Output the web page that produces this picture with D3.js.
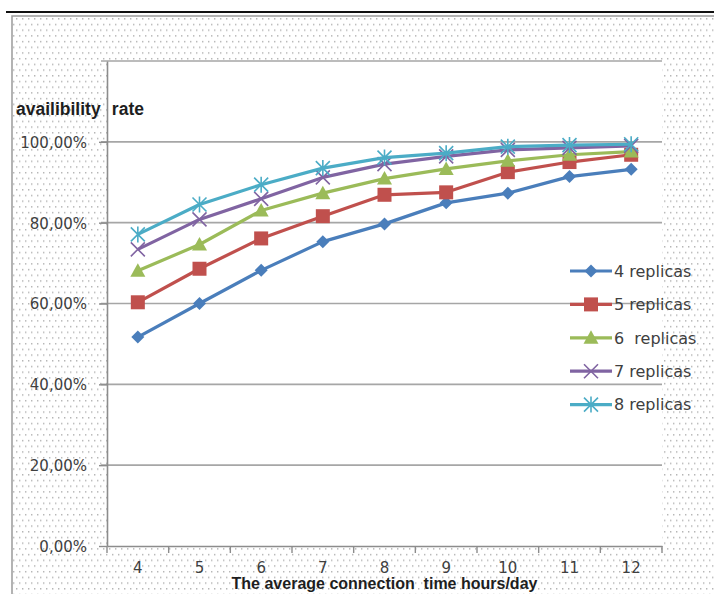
<!DOCTYPE html>
<html>
<head>
<meta charset="utf-8">
<script src="https://cdn.jsdelivr.net/npm/d3@7"></script>
<style>
  html, body { margin: 0; padding: 0; background: #ffffff; }
  svg { display: block; }
</style>
</head>
<body>
<div id="chart"></div>
<script>
// ---- data ----
const categories = [4, 5, 6, 7, 8, 9, 10, 11, 12];
const seriesNames = ["4 replicas", "5 replicas", "6  replicas", "7 replicas", "8 replicas"];
const rep4 = [0.517, 0.600, 0.682, 0.753, 0.797, 0.849, 0.873, 0.914, 0.932];
const rep5 = [0.603, 0.686, 0.761, 0.816, 0.869, 0.875, 0.925, 0.950, 0.968];
const rep6 = [0.681, 0.746, 0.830, 0.873, 0.909, 0.933, 0.953, 0.968, 0.976];
const rep7 = [0.734, 0.808, 0.859, 0.912, 0.945, 0.964, 0.980, 0.985, 0.990];
const rep8 = [0.771, 0.845, 0.894, 0.935, 0.961, 0.972, 0.988, 0.992, 0.994];
const yTicks = [0, 0.2, 0.4, 0.6, 0.8, 1.0];
const yGrid = [0.2, 0.4, 0.6, 0.8, 1.0, 1.2];
const yTitle = ["availibility", "rate"];
const xTitle = "The average connection  time hours/day";

const seriesValues = [rep4, rep5, rep6, rep7, rep8];
const colors = ["#4a7ebb", "#c0504d", "#9bbb59", "#8064a2", "#4bacc6"];
const markers = ["diamond", "square", "triangle", "x", "star"];

const W = 714, H = 594;
const svg = d3.select("#chart").append("svg").attr("width", W).attr("height", H);

// dotted background pattern
const defs = svg.append("defs");
const pat = defs.append("pattern").attr("id", "dots").attr("patternUnits", "userSpaceOnUse")
  .attr("width", 6).attr("height", 11.4);
pat.append("rect").attr("width", 6).attr("height", 11.4).attr("fill", "#ffffff");
pat.append("rect").attr("x", 1).attr("y", 1).attr("width", 1.4).attr("height", 1.4).attr("fill", "#b0b0b0");
pat.append("rect").attr("x", 4).attr("y", 6.7).attr("width", 1.4).attr("height", 1.4).attr("fill", "#b0b0b0");

// outer chart area
svg.append("rect").attr("x", 12).attr("y", 16).attr("width", W).attr("height", H)
  .attr("fill", "url(#dots)").attr("stroke", "#9a9a9a").attr("stroke-width", 1.5);
svg.append("line").attr("x1", 6).attr("x2", W).attr("y1", 12).attr("y2", 12)
  .attr("stroke", "#111").attr("stroke-width", 2);

// plot area
const px0 = 107, px1 = 662, py0 = 61, py1 = 546;
svg.append("rect").attr("x", px0).attr("y", py0).attr("width", px1 - px0).attr("height", py1 - py0)
  .attr("fill", "#ffffff");

const x = d3.scaleBand().domain(categories).range([px0, px1]).paddingInner(0).paddingOuter(0);
const y = d3.scaleLinear().domain([0, 1.2]).range([py1, py0]);

// gridlines
svg.append("g").selectAll("line").data(yGrid).join("line")
  .attr("x1", px0 - 6).attr("x2", px1)
  .attr("y1", d => y(d)).attr("y2", d => y(d))
  .attr("stroke", "#a6a6a6").attr("stroke-width", 1.6);

// y axis
const locale = d3.formatLocale({ decimal: ",", thousands: ".", grouping: [3], currency: ["", "€"] });
const fmt = locale.format(".2%");
const yAxis = svg.append("g").attr("transform", `translate(${px0},0)`)
  .call(d3.axisLeft(y).tickValues(yTicks).tickFormat(fmt).tickSize(8).tickPadding(12).tickSizeOuter(0));
yAxis.select(".domain").attr("stroke", "#8c8c8c").attr("stroke-width", 1.6);
yAxis.selectAll(".tick line").attr("stroke", "#8c8c8c").attr("stroke-width", 1.4);
yAxis.selectAll(".tick text").attr("font-family", "DejaVu Sans, Verdana, sans-serif")
  .attr("font-size", 15).attr("fill", "#404040").attr("dy", "0.36em");

// x axis
const xAxis = svg.append("g").attr("transform", `translate(0,${py1})`)
  .call(d3.axisBottom(x).tickSize(0).tickPadding(16).tickSizeOuter(0));
xAxis.select(".domain").attr("stroke", "#8c8c8c").attr("stroke-width", 1.6);
xAxis.selectAll(".tick text").attr("font-family", "DejaVu Sans, Verdana, sans-serif")
  .attr("font-size", 15).attr("fill", "#404040");
const bounds = categories.map(c => x(c)).concat([x.range()[1]]);
xAxis.append("g").selectAll("line").data(bounds).join("line")
  .attr("x1", d => d).attr("x2", d => d).attr("y1", 0).attr("y2", 7)
  .attr("stroke", "#8c8c8c").attr("stroke-width", 1.4);

// axis titles
const yt = svg.append("text").attr("x", 16).attr("y", 115)
  .attr("font-family", "Liberation Sans, Arial, sans-serif").attr("font-weight", "bold")
  .attr("font-size", 17.5).attr("fill", "#1e1e1e");
yt.append("tspan").text(yTitle[0]);
yt.append("tspan").attr("x", 107).text(" " + yTitle[1]);

svg.append("text").attr("x", (213 + 556) / 2).attr("y", 589).attr("text-anchor", "middle")
  .attr("font-family", "Liberation Sans, Arial, sans-serif").attr("font-weight", "bold")
  .attr("font-size", 16).attr("fill", "#1e1e1e").style("white-space", "pre").text(xTitle);

// marker drawing
function drawMarker(g, type, cx, cy, color) {
  if (type === "diamond") {
    g.append("path").attr("d", `M${cx},${cy - 6.5}L${cx + 6.5},${cy}L${cx},${cy + 6.5}L${cx - 6.5},${cy}Z`)
      .attr("fill", color);
  } else if (type === "square") {
    g.append("rect").attr("x", cx - 7).attr("y", cy - 7).attr("width", 14).attr("height", 14)
      .attr("fill", color);
  } else if (type === "triangle") {
    g.append("path").attr("d", `M${cx},${cy - 7.5}L${cx + 7.5},${cy + 6}L${cx - 7.5},${cy + 6}Z`)
      .attr("fill", color);
  } else if (type === "x") {
    g.append("path").attr("d", `M${cx - 7},${cy - 7}L${cx + 7},${cy + 7}M${cx - 7},${cy + 7}L${cx + 7},${cy - 7}`)
      .attr("stroke", color).attr("stroke-width", 1.6).attr("fill", "none");
  } else if (type === "star") {
    g.append("path").attr("d", `M${cx - 7},${cy - 7}L${cx + 7},${cy + 7}M${cx - 7},${cy + 7}L${cx + 7},${cy - 7}M${cx},${cy - 8}L${cx},${cy + 8}`)
      .attr("stroke", color).attr("stroke-width", 1.6).attr("fill", "none");
  }
}

// series
const line = d3.line().x((d, i) => x(categories[i]) + x.bandwidth() / 2).y(d => y(d));
seriesValues.forEach((vals, s) => {
  const g = svg.append("g");
  g.append("path").datum(vals).attr("d", line).attr("fill", "none")
    .attr("stroke", colors[s]).attr("stroke-width", 3.2).attr("stroke-linejoin", "round");
  vals.forEach((v, i) => drawMarker(g, markers[s], x(categories[i]) + x.bandwidth() / 2, y(v), colors[s]));
});

// legend
const lg = svg.append("g");
seriesNames.forEach((name, s) => {
  const ly = 271 + s * 33.4;
  const row = lg.append("g");
  row.append("line").attr("x1", 570).attr("x2", 612).attr("y1", ly).attr("y2", ly)
    .attr("stroke", colors[s]).attr("stroke-width", 3.2);
  drawMarker(row, markers[s], 591, ly, colors[s]);
  row.append("text").attr("x", 614).attr("y", ly).attr("dy", "0.36em")
    .attr("font-family", "DejaVu Sans, Verdana, sans-serif").attr("font-size", 16)
    .attr("fill", "#404040").style("white-space", "pre").text(name);
});
</script>
</body>
</html>
